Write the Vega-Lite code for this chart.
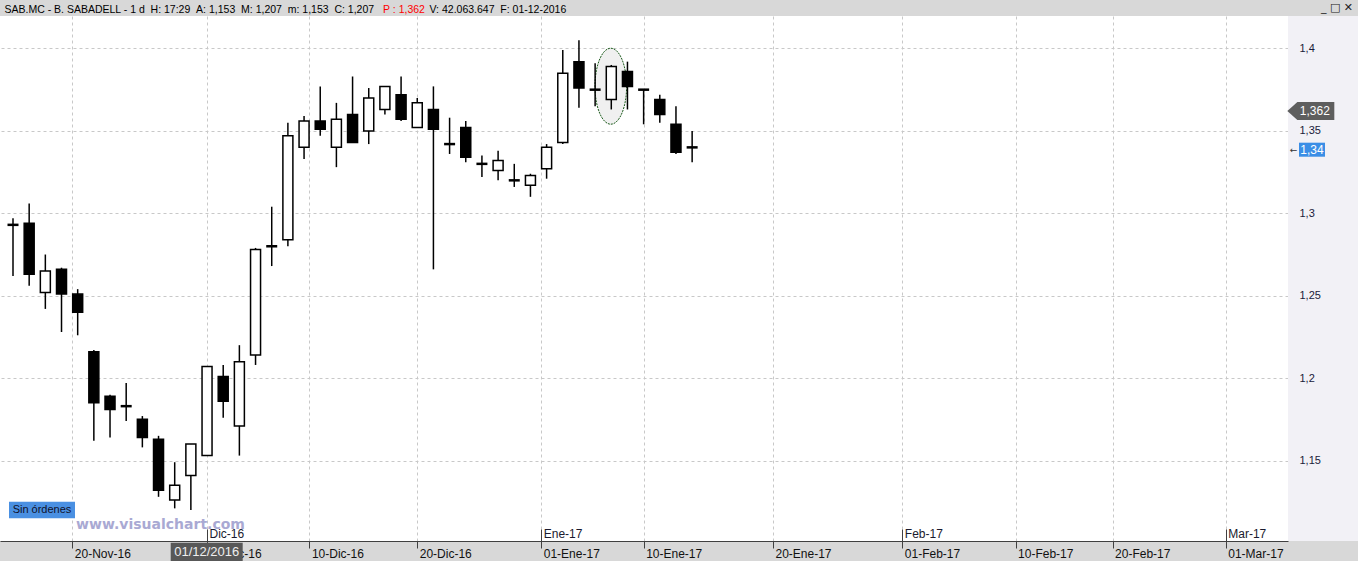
{
  "$schema": "https://vega.github.io/schema/vega-lite/v6.json",
  "width": 1288,
  "height": 525,
  "autosize": "none",
  "padding": {"left": 0, "top": 16, "right": 70, "bottom": 20},
  "background": "#d8d8d8",
  "config": {"view": {"fill": "white", "stroke": null}},
  "datasets": {
    "candles": [
      {"d": "2016-11-15", "i": 0, "o": 1.293, "h": 1.297, "l": 1.262, "c": 1.293},
      {"d": "2016-11-16", "i": 1, "o": 1.294, "h": 1.306, "l": 1.256, "c": 1.263},
      {"d": "2016-11-17", "i": 2, "o": 1.252, "h": 1.275, "l": 1.242, "c": 1.265},
      {"d": "2016-11-18", "i": 3, "o": 1.266, "h": 1.267, "l": 1.228, "c": 1.251},
      {"d": "2016-11-21", "i": 4, "o": 1.251, "h": 1.254, "l": 1.226, "c": 1.240},
      {"d": "2016-11-22", "i": 5, "o": 1.216, "h": 1.217, "l": 1.162, "c": 1.185},
      {"d": "2016-11-23", "i": 6, "o": 1.189, "h": 1.190, "l": 1.164, "c": 1.181},
      {"d": "2016-11-24", "i": 7, "o": 1.183, "h": 1.197, "l": 1.174, "c": 1.183},
      {"d": "2016-11-25", "i": 8, "o": 1.175, "h": 1.177, "l": 1.158, "c": 1.164},
      {"d": "2016-11-28", "i": 9, "o": 1.163, "h": 1.165, "l": 1.128, "c": 1.132},
      {"d": "2016-11-29", "i": 10, "o": 1.126, "h": 1.149, "l": 1.121, "c": 1.135},
      {"d": "2016-11-30", "i": 11, "o": 1.141, "h": 1.160, "l": 1.120, "c": 1.160},
      {"d": "2016-12-01", "i": 12, "o": 1.153, "h": 1.207, "l": 1.153, "c": 1.207},
      {"d": "2016-12-02", "i": 13, "o": 1.201, "h": 1.208, "l": 1.176, "c": 1.186},
      {"d": "2016-12-05", "i": 14, "o": 1.171, "h": 1.220, "l": 1.153, "c": 1.210},
      {"d": "2016-12-06", "i": 15, "o": 1.214, "h": 1.279, "l": 1.208, "c": 1.278},
      {"d": "2016-12-07", "i": 16, "o": 1.280, "h": 1.304, "l": 1.268, "c": 1.280},
      {"d": "2016-12-08", "i": 17, "o": 1.284, "h": 1.355, "l": 1.280, "c": 1.347},
      {"d": "2016-12-09", "i": 18, "o": 1.340, "h": 1.359, "l": 1.333, "c": 1.356},
      {"d": "2016-12-12", "i": 19, "o": 1.356, "h": 1.377, "l": 1.347, "c": 1.351},
      {"d": "2016-12-13", "i": 20, "o": 1.340, "h": 1.367, "l": 1.328, "c": 1.357},
      {"d": "2016-12-14", "i": 21, "o": 1.360, "h": 1.383, "l": 1.343, "c": 1.343},
      {"d": "2016-12-15", "i": 22, "o": 1.350, "h": 1.376, "l": 1.342, "c": 1.370},
      {"d": "2016-12-16", "i": 23, "o": 1.363, "h": 1.377, "l": 1.360, "c": 1.377},
      {"d": "2016-12-19", "i": 24, "o": 1.372, "h": 1.383, "l": 1.356, "c": 1.357},
      {"d": "2016-12-20", "i": 25, "o": 1.352, "h": 1.370, "l": 1.352, "c": 1.367},
      {"d": "2016-12-21", "i": 26, "o": 1.363, "h": 1.377, "l": 1.266, "c": 1.351},
      {"d": "2016-12-22", "i": 27, "o": 1.342, "h": 1.358, "l": 1.336, "c": 1.342},
      {"d": "2016-12-23", "i": 28, "o": 1.352, "h": 1.356, "l": 1.331, "c": 1.334},
      {"d": "2016-12-27", "i": 29, "o": 1.330, "h": 1.335, "l": 1.322, "c": 1.330},
      {"d": "2016-12-28", "i": 30, "o": 1.326, "h": 1.338, "l": 1.320, "c": 1.332},
      {"d": "2016-12-29", "i": 31, "o": 1.320, "h": 1.330, "l": 1.316, "c": 1.320},
      {"d": "2016-12-30", "i": 32, "o": 1.317, "h": 1.324, "l": 1.310, "c": 1.323},
      {"d": "2017-01-02", "i": 33, "o": 1.327, "h": 1.342, "l": 1.321, "c": 1.340},
      {"d": "2017-01-03", "i": 34, "o": 1.343, "h": 1.399, "l": 1.342, "c": 1.385},
      {"d": "2017-01-04", "i": 35, "o": 1.392, "h": 1.405, "l": 1.364, "c": 1.376},
      {"d": "2017-01-05", "i": 36, "o": 1.375, "h": 1.391, "l": 1.365, "c": 1.375},
      {"d": "2017-01-06", "i": 37, "o": 1.369, "h": 1.390, "l": 1.363, "c": 1.389},
      {"d": "2017-01-09", "i": 38, "o": 1.386, "h": 1.392, "l": 1.363, "c": 1.377},
      {"d": "2017-01-10", "i": 39, "o": 1.375, "h": 1.375, "l": 1.354, "c": 1.375},
      {"d": "2017-01-11", "i": 40, "o": 1.369, "h": 1.372, "l": 1.355, "c": 1.360},
      {"d": "2017-01-12", "i": 41, "o": 1.354, "h": 1.365, "l": 1.336, "c": 1.337},
      {"d": "2017-01-13", "i": 42, "o": 1.340, "h": 1.350, "l": 1.331, "c": 1.340}
    ]
  },
  "resolve": {"axis": {"x": "independent", "y": "independent"}},
  "layer": [
    {
      "data": {"values": [{}]},
      "mark": {"type": "rect", "fill": "#f2f1f6", "clip": false},
      "encoding": {
        "x": {"datum": 78.85, "type": "quantitative", "scale": {"domain": [-0.804, 78.85], "nice": false, "zero": false, "padding": 0}, "axis": null},
        "x2": {"datum": 84},
        "y": {"datum": 1.1012, "type": "quantitative", "scale": {"domain": [1.1012, 1.4197], "nice": false, "zero": false}, "axis": null},
        "y2": {"datum": 1.4197}
      }
    },
    {
      "data": {"values": [{}]},
      "mark": {"type": "point", "filled": true, "fill": "#f0f0f0", "stroke": "#1a5a1a", "strokeWidth": 1, "strokeDash": [2, 1], "opacity": 1,
        "shape": "M 0.416 0 C 0.416 0.5523 0.2297 1 0 1 C -0.2297 1 -0.416 0.5523 -0.416 0 C -0.416 -0.5523 -0.2297 -1 0 -1 C 0.2297 -1 0.416 -0.5523 0.416 0 Z",
        "size": 5776},
      "encoding": {
        "x": {"datum": 36.97, "type": "quantitative", "scale": {"domain": [-0.804, 78.85], "nice": false, "zero": false, "padding": 0}, "axis": null},
        "y": {"datum": 1.3771, "type": "quantitative", "scale": {"domain": [1.1012, 1.4197], "nice": false, "zero": false}, "axis": null}
      }
    },
    {
      "data": {"name": "candles"},
      "mark": {"type": "rule", "color": "#000000", "strokeWidth": 1.5},
      "encoding": {
        "x": {"field": "i", "type": "quantitative", "scale": {"domain": [-0.804, 78.85], "nice": false, "zero": false, "padding": 0},
          "axis": {"orient": "bottom", "values": [-3, 3.67, 12, 18.33, 25, 32.67, 39, 47, 55, 62, 68, 75], "grid": true, "gridColor": "#c8c8c8", "gridDash": [3, 3], "gridWidth": 1, "labels": false, "ticks": false, "domain": false,
            "title": "SAB.MC - B. SABADELL - 1 d \u00a0H: 17:29 \u00a0A: 1,153 \u00a0M: 1,207 \u00a0m: 1,153 \u00a0C: 1,207",
            "titleX": 4, "titleY": -529, "titleAngle": 0, "titleAlign": "left", "titleBaseline": "alphabetic",
            "titleColor": "#000000", "titleFont": "Liberation Sans", "titleFontSize": 10.5, "titleFontWeight": "normal", "zindex": 0}},
        "y": {"field": "l", "type": "quantitative", "scale": {"domain": [1.1012, 1.4197], "nice": false, "zero": false},
          "axis": {"orient": "right", "values": [1.15, 1.2, 1.25, 1.3, 1.35, 1.4], "grid": true, "gridColor": "#c8c8c8", "gridDash": [3, 3], "gridWidth": 1, "labels": false, "ticks": false, "domain": false, "title": null, "zindex": 0}},
        "y2": {"field": "h"}
      }
    },
    {
      "data": {"name": "candles"},
      "transform": [{"filter": "datum.o != datum.c"}],
      "mark": {"type": "bar", "size": 10, "stroke": "#000000", "strokeWidth": 1.5},
      "encoding": {
        "x": {"field": "i", "type": "quantitative", "scale": {"domain": [-0.804, 78.85], "nice": false, "zero": false, "padding": 0},
          "axis": {"orient": "bottom", "values": [-3, 3.67, 12, 18.33, 25, 32.67, 39, 47, 55, 62, 68, 75], "grid": false,
            "domainColor": "#404040", "domainWidth": 1, "tickColor": "#404040", "tickSize": 7, "tickWidth": 1,
            "labelAlign": "left", "labelOffset": 2, "labelBaseline": "alphabetic", "labelPadding": 9,
            "labelFont": "Liberation Sans", "labelFontSize": 12, "labelColor": "#111111", "labelOverlap": false, "labelFlush": false, "labelBound": false,
            "labelExpr": "{'-3':'10-Nov-16','3.67':'20-Nov-16','12':'01-Dic-16','18.33':'10-Dic-16','25':'20-Dic-16','32.67':'01-Ene-17','39':'10-Ene-17','47':'20-Ene-17','55':'01-Feb-17','62':'10-Feb-17','68':'20-Feb-17','75':'01-Mar-17'}[datum.value]",
            "title": null, "zindex": 0}},
        "y": {"field": "o", "type": "quantitative", "scale": {"domain": [1.1012, 1.4197], "nice": false, "zero": false},
          "axis": {"orient": "right", "values": [1.15, 1.2, 1.25, 1.3, 1.35, 1.4], "grid": false, "ticks": false, "domain": false,
            "labelPadding": 11, "labelFont": "Liberation Sans", "labelFontSize": 11, "labelColor": "#1a1a3a", "labelOverlap": false, "labelFlush": false,
            "labelExpr": "replace(format(datum.value, '.2~f'), '.', ',')",
            "title": "P : 1,362", "titleX": -905.4, "titleY": -4, "titleAngle": 0, "titleAlign": "left", "titleBaseline": "alphabetic",
            "titleColor": "#ff0000", "titleFont": "Liberation Sans", "titleFontSize": 10.5, "titleFontWeight": "normal", "zindex": 1}},
        "y2": {"field": "c"},
        "fill": {"condition": {"test": "datum.c < datum.o", "value": "#000000"}, "value": "#ffffff"}
      }
    },
    {
      "data": {"name": "candles"},
      "transform": [{"filter": "datum.o == datum.c"}],
      "mark": {"type": "tick", "orient": "horizontal", "size": 11, "thickness": 2.5, "color": "#000000", "opacity": 1},
      "encoding": {
        "x": {"field": "i", "type": "quantitative", "scale": {"domain": [-0.804, 78.85], "nice": false, "zero": false, "padding": 0},
          "axis": {"orient": "bottom", "offset": -12, "values": [12, 32.67, 55, 75], "grid": false, "domain": false,
            "tickColor": "#404040", "tickSize": 12, "tickWidth": 1,
            "labelAlign": "left", "labelOffset": 2, "labelBaseline": "alphabetic", "labelPadding": -4,
            "labelFont": "Liberation Sans", "labelFontSize": 12, "labelColor": "#1a1a2e", "labelOverlap": false, "labelFlush": false, "labelBound": false,
            "labelExpr": "{'12':'Dic-16','32.67':'Ene-17','55':'Feb-17','75':'Mar-17'}[datum.value]",
            "title": "V: 42.063.647 \u00a0F: 01-12-2016", "titleX": 429, "titleY": -517, "titleAngle": 0, "titleAlign": "left", "titleBaseline": "alphabetic",
            "titleColor": "#000000", "titleFont": "Liberation Sans", "titleFontSize": 10.5, "titleFontWeight": "normal", "zindex": 0}},
        "y": {"field": "c", "type": "quantitative", "scale": {"domain": [1.1012, 1.4197], "nice": false, "zero": false}, "axis": null}
      }
    },
    {
      "data": {"values": [{}]},
      "mark": {"type": "text", "text": "www.visualchart.com", "font": "DejaVu Sans", "fontSize": 14, "fontWeight": "bold", "color": "#a9a9d3", "align": "center", "baseline": "middle", "clip": false},
      "encoding": {
        "x": {"datum": 9.12, "type": "quantitative", "scale": {"domain": [-0.804, 78.85], "nice": false, "zero": false, "padding": 0}, "axis": null},
        "y": {"datum": 1.1109, "type": "quantitative", "scale": {"domain": [1.1012, 1.4197], "nice": false, "zero": false}, "axis": null}
      }
    },
    {
      "data": {"values": [{}]},
      "mark": {"type": "rect", "fill": "#4a90e2", "clip": false},
      "encoding": {
        "x": {"datum": -0.247, "type": "quantitative", "scale": {"domain": [-0.804, 78.85], "nice": false, "zero": false, "padding": 0}, "axis": null},
        "x2": {"datum": 3.834},
        "y": {"datum": 1.11493, "type": "quantitative", "scale": {"domain": [1.1012, 1.4197], "nice": false, "zero": false}, "axis": null},
        "y2": {"datum": 1.125}
      }
    },
    {
      "data": {"values": [{}]},
      "mark": {"type": "text", "text": "Sin órdenes", "font": "Liberation Sans", "fontSize": 11, "color": "#10102a", "align": "center", "baseline": "middle", "clip": false},
      "encoding": {
        "x": {"datum": 1.793, "type": "quantitative", "scale": {"domain": [-0.804, 78.85], "nice": false, "zero": false, "padding": 0}, "axis": null},
        "y": {"datum": 1.11997, "type": "quantitative", "scale": {"domain": [1.1012, 1.4197], "nice": false, "zero": false}, "axis": null}
      }
    },
    {
      "data": {"values": [{}]},
      "mark": {"type": "rect", "fill": "#585858", "clip": false},
      "encoding": {
        "x": {"datum": 9.753, "type": "quantitative", "scale": {"domain": [-0.804, 78.85], "nice": false, "zero": false, "padding": 0}, "axis": null},
        "x2": {"datum": 14.205},
        "y": {"datum": 1.08902, "type": "quantitative", "scale": {"domain": [1.1012, 1.4197], "nice": false, "zero": false}, "axis": null},
        "y2": {"datum": 1.10012}
      }
    },
    {
      "data": {"values": [{}]},
      "mark": {"type": "text", "text": "01/12/2016", "font": "Liberation Sans", "fontSize": 13, "color": "#eeeeee", "align": "center", "baseline": "middle", "clip": false},
      "encoding": {
        "x": {"datum": 11.98, "type": "quantitative", "scale": {"domain": [-0.804, 78.85], "nice": false, "zero": false, "padding": 0}, "axis": null},
        "y": {"datum": 1.09448, "type": "quantitative", "scale": {"domain": [1.1012, 1.4197], "nice": false, "zero": false}, "axis": null}
      }
    },
    {
      "data": {"values": [{}]},
      "mark": {"type": "point", "filled": true, "fill": "#5e5e5e", "strokeWidth": 0, "opacity": 1, "clip": false,
        "shape": "M -1 0 L -0.57 -0.383 L 1 -0.383 L 1 0.383 L -0.57 0.383 Z", "size": 2209},
      "encoding": {
        "x": {"datum": 80.26, "type": "quantitative", "scale": {"domain": [-0.804, 78.85], "nice": false, "zero": false, "padding": 0}, "axis": null},
        "y": {"datum": 1.362, "type": "quantitative", "scale": {"domain": [1.1012, 1.4197], "nice": false, "zero": false}, "axis": null}
      }
    },
    {
      "data": {"values": [{}]},
      "mark": {"type": "text", "text": "1,362", "font": "Liberation Sans", "fontSize": 12, "color": "#ffffff", "align": "center", "baseline": "middle", "clip": false},
      "encoding": {
        "x": {"datum": 80.51, "type": "quantitative", "scale": {"domain": [-0.804, 78.85], "nice": false, "zero": false, "padding": 0}, "axis": null},
        "y": {"datum": 1.362, "type": "quantitative", "scale": {"domain": [1.1012, 1.4197], "nice": false, "zero": false}, "axis": null}
      }
    },
    {
      "data": {"values": [{}]},
      "mark": {"type": "rect", "fill": "#3b8ee6", "clip": false},
      "encoding": {
        "x": {"datum": 79.53, "type": "quantitative", "scale": {"domain": [-0.804, 78.85], "nice": false, "zero": false, "padding": 0}, "axis": null},
        "x2": {"datum": 81.14},
        "y": {"datum": 1.33434, "type": "quantitative", "scale": {"domain": [1.1012, 1.4197], "nice": false, "zero": false}, "axis": null},
        "y2": {"datum": 1.34284}
      }
    },
    {
      "data": {"values": [{}]},
      "mark": {"type": "text", "text": "1,34", "font": "Liberation Sans", "fontSize": 12, "color": "#ffffff", "align": "center", "baseline": "middle", "clip": false},
      "encoding": {
        "x": {"datum": 80.33, "type": "quantitative", "scale": {"domain": [-0.804, 78.85], "nice": false, "zero": false, "padding": 0}, "axis": null},
        "y": {"datum": 1.3386, "type": "quantitative", "scale": {"domain": [1.1012, 1.4197], "nice": false, "zero": false}, "axis": null}
      }
    },
    {
      "data": {"values": [{}]},
      "mark": {"type": "text", "text": "←", "font": "DejaVu Sans", "fontSize": 9, "color": "#333333", "align": "center", "baseline": "middle", "clip": false},
      "encoding": {
        "x": {"datum": 79.19, "type": "quantitative", "scale": {"domain": [-0.804, 78.85], "nice": false, "zero": false, "padding": 0}, "axis": null},
        "y": {"datum": 1.3386, "type": "quantitative", "scale": {"domain": [1.1012, 1.4197], "nice": false, "zero": false}, "axis": null}
      }
    },
    {
      "data": {"values": [{}]},
      "mark": {"type": "text", "text": "_ □ ✕", "font": "DejaVu Sans", "fontSize": 11, "color": "#222222", "align": "center", "baseline": "middle", "clip": false},
      "encoding": {
        "x": {"datum": 81.88, "type": "quantitative", "scale": {"domain": [-0.804, 78.85], "nice": false, "zero": false, "padding": 0}, "axis": null},
        "y": {"datum": 1.42458, "type": "quantitative", "scale": {"domain": [1.1012, 1.4197], "nice": false, "zero": false}, "axis": null}
      }
    }
  ]
}
